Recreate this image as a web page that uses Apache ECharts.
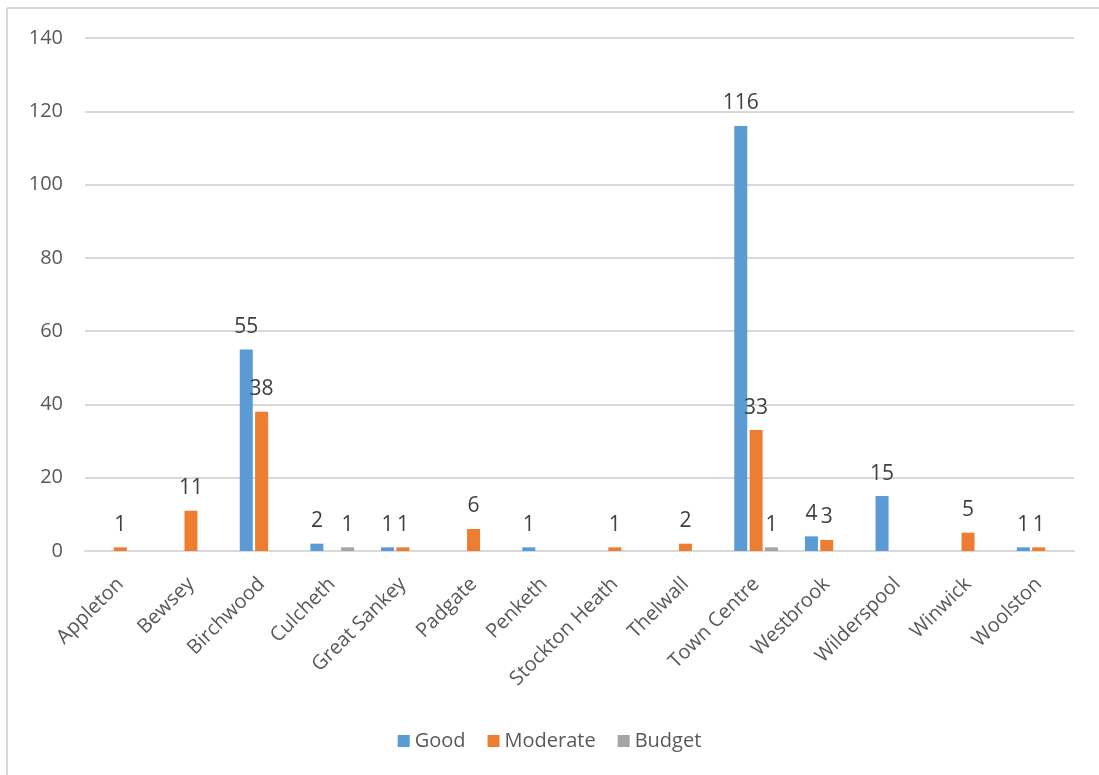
<!DOCTYPE html>
<html>
<head>
<meta charset="utf-8">
<script src="https://cdn.jsdelivr.net/npm/echarts@6/dist/echarts.min.js"></script>
<style>
html,body{margin:0;padding:0;background:#fff;}
#chart{width:1099px;height:775px;}
</style>
</head>
<body>
<div id="chart"></div>
<script>
const categories = ["Appleton","Bewsey","Birchwood","Culcheth","Great Sankey","Padgate","Penketh","Stockton Heath","Thelwall","Town Centre","Westbrook","Wilderspool","Winwick","Woolston"];
const good     = [null, null, 55, 2, 1, null, 1, null, null, 116, 4, 15, null, 1];
const moderate = [1, 11, 38, null, 1, 6, null, 1, 2, 33, 3, null, 5, 1];
const budget   = [null, null, null, 1, null, null, null, null, null, 1, null, null, null, null];
const yTicks = [0, 20, 40, 60, 80, 100, 120, 140];

const FONT = '"Open Sans", sans-serif';
const TXT = '#595959';

const chart = echarts.init(document.getElementById('chart'));
function series(name, data, color) {
  return {
    name: name, type: 'bar', data: data,
    barWidth: 13, barGap: '18%',
    itemStyle: { color: color },
    label: { show: true, position: 'top', distance: 12, color: '#404040', fontFamily: FONT, fontSize: 21 }
  };
}
chart.setOption({
  animation: false,
  textStyle: { fontFamily: FONT },
  graphic: [
    { type: 'line', shape: { x1: 7, y1: 8, x2: 1099, y2: 8 }, style: { stroke: '#d9d9d9', lineWidth: 2 } },
    { type: 'line', shape: { x1: 7, y1: 8, x2: 7, y2: 775 }, style: { stroke: '#d9d9d9', lineWidth: 2 } }
  ],
  grid: { left: 85, right: 25, top: 38, bottom: 224, containLabel: false },
  legend: {
    data: ['Good', 'Moderate', 'Budget'],
    bottom: 19, left: 'center',
    itemWidth: 12, itemHeight: 12, itemGap: 22, icon: 'rect',
    textStyle: { color: TXT, fontFamily: FONT, fontSize: 20 }
  },
  xAxis: {
    type: 'category', data: categories,
    axisTick: { show: false },
    axisLine: { lineStyle: { color: '#d9d9d9', width: 2 } },
    axisLabel: { interval: 0, rotate: 45, color: TXT, fontFamily: FONT, fontSize: 20, margin: 30 }
  },
  yAxis: {
    type: 'value', min: yTicks[0], max: yTicks[yTicks.length - 1], interval: 20,
    axisLine: { show: false }, axisTick: { show: false },
    splitLine: { lineStyle: { color: '#d9d9d9', width: 2 } },
    axisLabel: { color: TXT, fontFamily: FONT, fontSize: 20, margin: 22 }
  },
  series: [
    series('Good', good, '#5b9bd5'),
    series('Moderate', moderate, '#ed7d31'),
    series('Budget', budget, '#a5a5a5')
  ]
});
</script>
</body>
</html>
